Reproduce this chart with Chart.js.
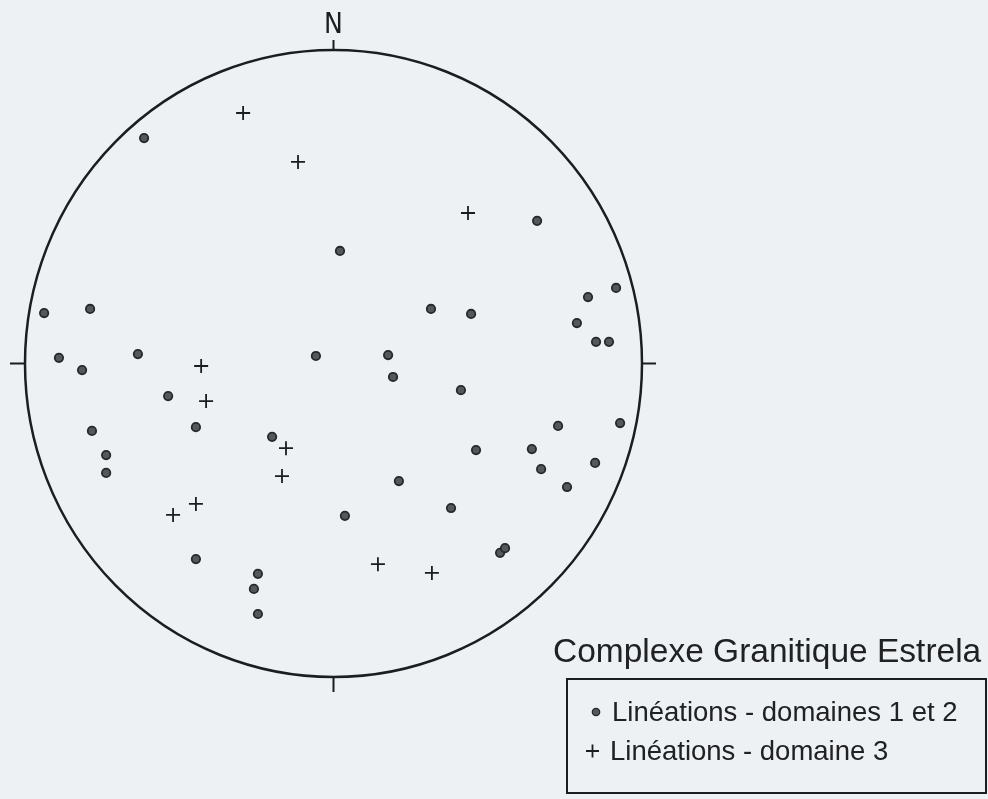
<!DOCTYPE html>
<html>
<head>
<meta charset="utf-8">
<script src="https://cdn.jsdelivr.net/npm/chart.js@4/dist/chart.umd.min.js"></script>
<style>
  html, body { margin: 0; padding: 0; background: #eef1f3; }
  #wrap { width: 988px; height: 799px; position: relative; }
</style>
</head>
<body>
<div id="wrap"><canvas id="net" width="988" height="799"></canvas></div>
<script>
// Lineations, domains 1 and 2 — projected position on the net (east, north), in net-radius units
const domaines12East = [-0.614, -0.938, -0.789, -0.890, -0.815, -0.634, -0.057, 0.660, 0.021, 0.916,
  0.825, 0.316, 0.446, 0.789, 0.851, 0.893, 0.177, 0.193, 0.413, 0.728,
  0.929, 0.462, 0.643, 0.848, 0.673, 0.212, 0.757, 0.381, -0.536, -0.783,
  -0.446, -0.199, -0.737, -0.737, -0.446, -0.245, -0.258, -0.245, 0.037, 0.540, 0.556];
const domaines12North = [0.719, 0.161, 0.174, 0.018, -0.021, 0.030, 0.024, 0.455, 0.359, 0.241,
  0.212, 0.174, 0.158, 0.129, 0.069, 0.069, 0.027, -0.043, -0.085, -0.199,
  -0.190, -0.276, -0.273, -0.317, -0.337, -0.375, -0.394, -0.461, -0.104, -0.215,
  -0.203, -0.234, -0.292, -0.349, -0.624, -0.671, -0.719, -0.799, -0.486, -0.604, -0.589];

// Lineations, domain 3
const domaine3East = [-0.293, -0.115, 0.436, -0.429, -0.413, -0.154, -0.167, -0.446, -0.520, 0.144, 0.319];
const domaine3North = [0.799, 0.643, 0.480, -0.008, -0.120, -0.270, -0.359, -0.448, -0.483, -0.640, -0.668];

const netTitle = 'Complexe Granitique Estrela';
const seriesLabels = ['Linéations - domaines 1 et 2', 'Linéations - domaine 3'];
const northLabel = 'N';

const toPoints = (xs, ys) => xs.map((x, i) => ({ x: x, y: ys[i] }));

const INK = '#1c1d1f';
const TEXT = '#202123';
const DOT_FILL = '#55585b';
const DOT_RIM = '#26282a';
const PAPER = '#eef1f3';

// Primitive circle, cardinal ticks and the north label, placed from the scales
const netFrame = {
  id: 'netFrame',
  beforeDraw(chart) {
    const ctx = chart.ctx;
    ctx.save();
    ctx.fillStyle = PAPER;
    ctx.fillRect(0, 0, chart.width, chart.height);
    ctx.restore();
  },
  beforeDatasetsDraw(chart) {
    const { ctx, scales: { x, y } } = chart;
    const cx = x.getPixelForValue(0), cy = y.getPixelForValue(0);
    const rx = x.getPixelForValue(1) - cx;
    const ry = cy - y.getPixelForValue(1);
    ctx.save();
    ctx.strokeStyle = INK;
    ctx.lineWidth = 2.5;
    ctx.beginPath();
    ctx.ellipse(cx, cy, rx, ry, 0, 0, Math.PI * 2);
    ctx.stroke();
    ctx.lineWidth = 2;
    ctx.beginPath();
    ctx.moveTo(cx - rx - 15, cy); ctx.lineTo(cx - rx, cy);
    ctx.moveTo(cx + rx, cy); ctx.lineTo(cx + rx + 14, cy);
    ctx.moveTo(cx, cy - ry - 10); ctx.lineTo(cx, cy - ry);
    ctx.moveTo(cx, cy + ry); ctx.lineTo(cx, cy + ry + 15);
    ctx.stroke();
    ctx.fillStyle = INK;
    ctx.font = '28px "Liberation Sans Narrow", "DejaVu Sans Condensed", "Liberation Sans", sans-serif';
    ctx.textAlign = 'center';
    ctx.textBaseline = 'alphabetic';
    ctx.fillText(northLabel, cx, cy - ry - 17);
    ctx.restore();
  }
};

// Title and boxed key, bottom right
const netKey = {
  id: 'netKey',
  afterDraw(chart) {
    const ctx = chart.ctx;
    const ds = chart.data.datasets;
    ctx.save();
    ctx.fillStyle = TEXT;
    ctx.textAlign = 'left';
    ctx.textBaseline = 'alphabetic';
    ctx.font = '33.5px "Liberation Sans", Arial, sans-serif';
    ctx.fillText(netTitle, 553, 662);

    ctx.strokeStyle = INK;
    ctx.lineWidth = 2;
    ctx.strokeRect(567, 679, 419, 114);

    ctx.font = '27.5px "Liberation Sans", Arial, sans-serif';
    // marker for domains 1 and 2
    ctx.beginPath();
    ctx.arc(596, 712, 3.7, 0, Math.PI * 2);
    ctx.fillStyle = DOT_FILL;
    ctx.fill();
    ctx.lineWidth = 1.3;
    ctx.strokeStyle = DOT_RIM;
    ctx.stroke();
    ctx.fillStyle = TEXT;
    ctx.fillText(ds[0].label, 612, 721);
    // marker for domain 3
    ctx.beginPath();
    ctx.lineWidth = 1.8;
    ctx.strokeStyle = INK;
    ctx.moveTo(586, 751); ctx.lineTo(599, 751);
    ctx.moveTo(592.5, 744.5); ctx.lineTo(592.5, 757.5);
    ctx.stroke();
    ctx.fillText(ds[1].label, 610, 760);
    ctx.restore();
  }
};

new Chart(document.getElementById('net'), {
  type: 'scatter',
  data: {
    datasets: [
      {
        label: seriesLabels[0],
        data: toPoints(domaines12East, domaines12North),
        pointStyle: 'circle',
        pointRadius: 4.2,
        backgroundColor: DOT_FILL,
        borderColor: DOT_RIM,
        borderWidth: 1.8
      },
      {
        label: seriesLabels[1],
        data: toPoints(domaine3East, domaine3North),
        pointStyle: 'cross',
        pointRadius: 7,
        borderColor: INK,
        borderWidth: 1.8
      }
    ]
  },
  options: {
    responsive: false,
    animation: false,
    devicePixelRatio: 1,
    layout: { padding: { left: 25, right: 346, top: 50, bottom: 122 } },
    scales: {
      x: { type: 'linear', min: -1, max: 1, display: false },
      y: { type: 'linear', min: -1, max: 1, display: false }
    },
    plugins: {
      legend: { display: false },
      tooltip: { enabled: false }
    }
  },
  plugins: [netFrame, netKey]
});
</script>
</body>
</html>
